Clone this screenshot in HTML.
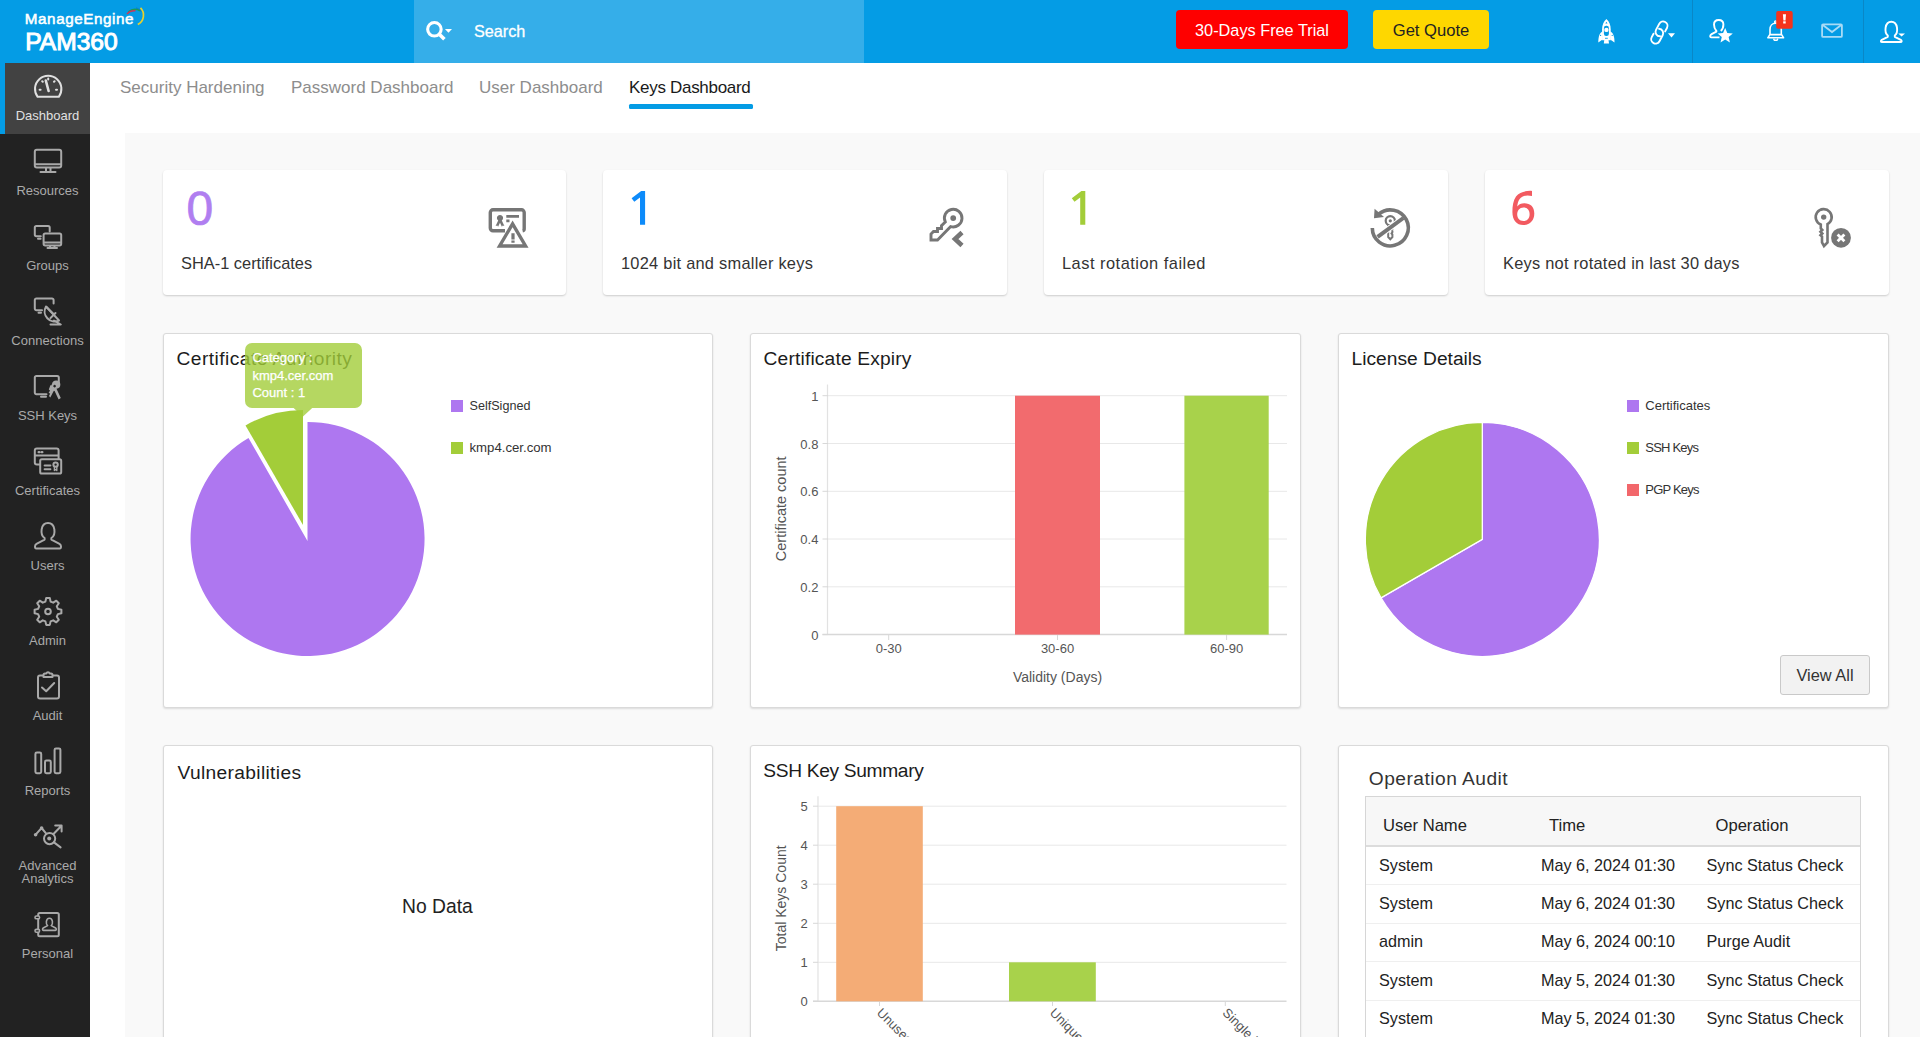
<!DOCTYPE html>
<html><head><meta charset="utf-8">
<style>
*{box-sizing:border-box;margin:0;padding:0}
html,body{width:1920px;height:1037px;overflow:hidden;background:#fff;font-family:"Liberation Sans",sans-serif;color:#333}
.a{position:absolute}
#hdr{left:0;top:0;width:1920px;height:63px;background:#049ce5}
#side{left:0;top:63px;width:90px;height:974px;background:#222}
.si{position:absolute;left:5px;width:85px;text-align:center;color:#aaa;font-size:13px;line-height:13px}
.si svg{position:absolute;left:31px}
#grey{left:125px;top:133px;width:1795px;height:904px;background:#f9f9f9}
.tab{position:absolute;top:78.8px;font-size:17px;line-height:17px;color:#8d8d8d;white-space:nowrap}
.card{position:absolute;top:170px;width:404px;height:125px;background:#fff;border-radius:4px;box-shadow:0 1px 2px rgba(0,0,0,.18)}
.card .num{position:absolute;left:23.5px;top:14.5px;font-size:48px;line-height:48px;-webkit-text-stroke:0.7px currentColor}
.card .lbl{position:absolute;left:18px;top:84.6px;font-size:16.4px;line-height:16px;color:#333;white-space:nowrap}
.card svg{position:absolute}
.pan{position:absolute;background:#fff;border:1px solid #dadada;box-shadow:0 1px 2px rgba(0,0,0,.12);border-radius:3px}
.ttl{position:absolute;font-size:19.2px;line-height:19px;color:#1c1c1c;white-space:nowrap}
.td{position:absolute;font-size:16.2px;line-height:16px;color:#222;white-space:nowrap}
.lg{position:absolute;font-size:13px;color:#333;white-space:nowrap}
.lg i{position:absolute;left:0;top:3px;width:11px;height:11px}
.lg span{position:absolute;left:18px;top:0}
</style></head><body>
<div id="hdr" class="a"></div>
<!-- header content -->
<div class="a" style="left:24.8px;top:11.2px;font-size:15.2px;line-height:15px;color:#fff;letter-spacing:0.6px;-webkit-text-stroke:0.55px #fff">ManageEngine</div>
<div class="a" style="left:25.2px;top:29.5px;font-size:24.6px;line-height:24px;color:#fff;-webkit-text-stroke:1px #fff">PAM360</div>
<svg class="a" style="left:120px;top:3px" width="30" height="26" viewBox="0 0 30 26">
<path d="M16 5 A10.5 10.5 0 0 1 21.5 8.5" stroke="#1670bd" stroke-width="1.4" fill="none" opacity="0.6"/>
<path d="M8.5 8.8 A10 10 0 0 1 20 7.8" stroke="#1d9a55" stroke-width="1.6" fill="none"/>
<path d="M7 11 A9 9 0 0 1 15.5 7.8" stroke="#c73a5c" stroke-width="1.5" fill="none"/>
<path d="M20.5 4.8 A10.5 10.5 0 0 1 17.8 21.5" stroke="#e9d12c" stroke-width="1.7" fill="none"/>
</svg>
<div class="a" style="left:414px;top:0;width:450px;height:63px;background:#35aee9"></div>
<svg class="a" style="left:424px;top:20px" width="32" height="24" viewBox="0 0 32 24">
<circle cx="10.4" cy="9.3" r="6.75" stroke="#fff" stroke-width="3.1" fill="none"/>
<path d="M14.6 13.5 L20.4 19.3" stroke="#fff" stroke-width="3.6"/>
<path d="M20.9 9.1 H28 L24.5 12.8 Z" fill="#fff"/>
</svg>
<div class="a" style="left:474px;top:23px;font-size:16.2px;line-height:16px;color:#fff;-webkit-text-stroke:0.3px #fff">Search</div>
<div class="a" style="left:1176px;top:10px;width:172px;height:39px;background:#fe0000;border-radius:4px;color:#fff;font-size:16.3px;line-height:41px;text-align:center">30-Days Free Trial</div>
<div class="a" style="left:1373px;top:10px;width:116px;height:39px;background:#fed700;border-radius:4px;color:#222;font-size:16.6px;line-height:41px;text-align:center">Get Quote</div>
<div class="a" style="left:1692px;top:0;width:1px;height:63px;background:#0a87c6"></div>
<div class="a" style="left:1863px;top:0;width:1px;height:63px;background:#0a87c6"></div>
<svg class="a" style="left:0;top:0" width="1920" height="63" viewBox="0 0 1920 63">
<g fill="none" stroke="#fff" stroke-width="1.6" stroke-linejoin="round">
 <!-- link -->
 <path d="M4.4 0.5 V-3.4 A4.4 4.4 0 0 0 -4.4 -3.4 V3.4 A4.4 4.4 0 0 0 2.2 7.2" transform="translate(1661.5 28.9) rotate(28)" stroke-width="1.9" stroke-linecap="round"/>
 <path d="M-1.8 -7.4 A4.4 4.4 0 0 1 4.4 -3.4 V3.4 A4.4 4.4 0 0 1 -4.4 3.4 V-0.5" transform="translate(1657.2 36.2) rotate(28)" stroke-width="1.9" stroke-linecap="round"/>
 <!-- user star -->
 <path d="M1720.8 31 C1722.6 29.4 1723.4 27.5 1723.4 24.6 C1723.4 21.6 1721.6 20 1718.7 20 C1715.8 20 1714 21.6 1714 24.6 C1714 27.6 1714.8 29.3 1716.4 31 V31.6 L1711.6 34.2 C1709.8 35.2 1709.8 37.4 1711.2 37.4 H1719.5" stroke-width="1.9"/>
 <!-- bell -->
 <path d="M1770 34.4 V29.5 C1770 26 1772.3 23.3 1775.6 23.3 C1778.9 23.3 1781.3 26 1781.3 29.5 V34.4"/>
 <path d="M1769.8 34.6 H1781.6 L1783.6 37.8 H1767.8 Z"/>
 <path d="M1773.6 38.6 L1774.3 40.2 H1777.1 L1777.8 38.6" stroke-width="1.4"/>
 <circle cx="1775.5" cy="21.9" r="1" stroke-width="1.2"/>
 <!-- user -->
 <path d="M1887.8 35.6 C1884.2 33 1884.4 21.8 1891.3 21.8 C1898.2 21.8 1898.4 33 1894.8 35.6 L1894.8 36.8 L1900.8 39.8 C1902.2 40.8 1901.9 42 1900.5 42 H1882.1 C1880.7 42 1880.4 40.8 1881.8 39.8 L1887.8 36.8 Z" stroke-width="1.9"/>
</g>
<path d="M1725.20 28.00 L1727.32 33.09 L1732.81 33.53 L1728.62 37.11 L1729.90 42.47 L1725.20 39.60 L1720.50 42.47 L1721.78 37.11 L1717.59 33.53 L1723.08 33.09 Z" fill="#fff"/>
<g fill="#fff">
 <path d="M1606.4 19 C1603.6 21.6 1602.1 25 1602.1 29.2 V40.3 H1610.7 V29.2 C1610.7 25 1609.2 21.6 1606.4 19 Z"/>
 <path d="M1602.6 31.2 C1599.8 32.8 1598.3 36 1598.3 42.6 L1602.6 39.6 Z"/>
 <path d="M1610.2 31.2 C1613 32.8 1614.5 36 1614.5 42.6 L1610.2 39.6 Z"/>
 <path d="M1604.3 40 H1608.5 L1609 43.6 H1603.8 Z"/>
</g>
<g fill="#049ce5">
 <rect x="1603.9" y="25.8" width="5" height="10.2" rx="2.2"/>
 <path d="M1606.4 21.7 L1607.5 23.5 H1605.3 Z"/>
 <rect x="1605" y="37.8" width="2.8" height="0.9"/>
 <circle cx="1600.6" cy="35.4" r="0.6"/>
 <circle cx="1612.2" cy="35.4" r="0.6"/>
</g>
<circle cx="1606.4" cy="29.9" r="2.2" fill="#fff"/>

<path d="M1668 33.3 H1675 L1671.5 37.6 Z" fill="#fff"/>
<path d="M1898.3 33.5 H1905 L1901.6 36.6 Z" fill="#fff"/>
<rect x="1822.1" y="24.3" width="19.8" height="12.6" rx="1" stroke="#a8dbf6" stroke-width="1.8" fill="none"/>
<path d="M1822.5 24.8 L1832 32 L1841.5 24.8" stroke="#a8dbf6" stroke-width="1.8" fill="none"/>
<rect x="1776.2" y="11.1" width="16.5" height="17.7" rx="1.8" fill="#f4331c"/>
<path d="M1782.9 14.3 H1786 L1785.5 20.6 H1783.4 Z" fill="#fff"/>
<rect x="1783.2" y="21.3" width="2.5" height="2.2" fill="#fff"/>
</svg>
<div id="side" class="a"></div>
<div class="a" style="left:0;top:63px;width:5px;height:71px;background:#049ce5"></div>
<div class="a" style="left:5px;top:63px;width:85px;height:71px;background:#424242"></div>
<svg class="a" style="left:0;top:0" width="90" height="1037" viewBox="0 0 90 1037">
<g fill="none" stroke="#a9a9a9" stroke-width="2" stroke-linejoin="round" stroke-linecap="round">
 <!-- dashboard -->
 <g stroke="#e0e0e0">
 <path d="M37.6 96.8 A13.2 13.2 0 1 1 58.8 96.8 Z"/>
 <path d="M48.6 91 L45.8 80.5" stroke-width="2.6"/>
 <path d="M48.2 78.6 V79.4 M42.2 81.2 L42.8 81.8 M54.6 81.2 L54 81.8 M39.6 89.8 H40.6 M56 89.8 H57"/>
 </g>
 <!-- resources -->
 <rect x="34.8" y="149.8" width="26.4" height="17.6" rx="2"/>
 <path d="M35 164.2 H61 M46 168 V171 M50.5 168 V171 M40.5 172 H55.5"/>
 <!-- groups -->
 <path d="M49.7 231.5 V227.5 a1.6 1.6 0 0 0 -1.6 -1.6 H36.4 a1.6 1.6 0 0 0 -1.6 1.6 V234.6 a1.6 1.6 0 0 0 1.6 1.6 H40.8 M38 238.8 H40.6"/>
 <rect x="43.6" y="233.4" width="17.6" height="12" rx="1.6"/>
 <path d="M44 242.6 H61 M50 246 V247.5 M54.5 246 V247.5 M47.5 248 H57"/>
 <!-- connections -->
 <path d="M53.6 303.5 V300 a1.6 1.6 0 0 0 -1.6 -1.6 H36.4 a1.6 1.6 0 0 0 -1.6 1.6 V308.6 a1.6 1.6 0 0 0 1.6 1.6 H42 M38.5 312.8 H41"/>
 <path d="M46 306.5 A10 10 0 0 0 59 320.5 Z"/>
 <path d="M46.5 307 L53.5 314 M55.5 313 L50.5 318"/>
 <path d="M54 320.5 L60.8 324.5 H50.5"/>
 <!-- ssh keys -->
 <path d="M58.8 385 V377.5 a1.6 1.6 0 0 0 -1.6 -1.6 H36.4 a1.6 1.6 0 0 0 -1.6 1.6 V392.6 a1.6 1.6 0 0 0 1.6 1.6 H46.5 M41 396.8 H46"/>
 <!-- certificates -->
 <rect x="34.8" y="448.4" width="23.8" height="16.2" rx="2"/>
 <path d="M38.6 452.2 H39.4 M41.6 452.2 H42.4" stroke-width="2.2"/>
 <path d="M35 455.6 H58"/>
 <rect x="40.2" y="459.2" width="21" height="14.4" rx="1.6" fill="#222"/>
 <path d="M44.6 465.6 H50.4 M44.6 469.2 H50.4"/>
 <circle cx="55.6" cy="464.6" r="2.2"/>
 <path d="M54.4 467 V470.5 L55.6 469.5 L56.8 470.5 V467" stroke-width="1.4"/>
 <!-- users -->
 <path d="M44.6 538 C39.8 535 40.4 523 48 523 C55.6 523 56.2 535 51.4 538 V539.6 L59.5 543.8 C61.6 545 61.3 548.5 59.8 548.5 H36.2 C34.7 548.5 34.4 545 36.5 543.8 L44.6 539.6 Z"/>
 <!-- admin gear -->
 <path d="M46.2 598 H49.8 L50.6 601.6 L53.2 602.7 L56.3 600.7 L58.8 603.2 L56.8 606.3 L57.9 608.9 L61.4 609.7 V613.3 L57.9 614.1 L56.8 616.7 L58.8 619.8 L56.3 622.3 L53.2 620.3 L50.6 621.4 L49.8 624.9 H46.2 L45.4 621.4 L42.8 620.3 L39.7 622.3 L37.2 619.8 L39.2 616.7 L38.1 614.1 L34.6 613.3 V609.7 L38.1 608.9 L39.2 606.3 L37.2 603.2 L39.7 600.7 L42.8 602.7 L45.4 601.6 Z"/>
 <circle cx="48" cy="611.5" r="2.8"/>
 <!-- audit -->
 <rect x="38" y="675.5" width="21" height="23" rx="2"/>
 <path d="M43.5 677 V675 a1.5 1.5 0 0 1 1.5 -1.5 H46.3 a1.8 1.8 0 0 1 3.4 0 H51 a1.5 1.5 0 0 1 1.5 1.5 V677 Z" fill="#222"/>
 <path d="M42 687.5 L46.2 691.3 L54.2 683"/>
 <!-- reports -->
 <rect x="35.4" y="752.6" width="5.8" height="20.6" rx="1.4"/>
 <rect x="45" y="760.6" width="5.8" height="12.6" rx="1.4"/>
 <rect x="54.6" y="748.4" width="5.8" height="24.8" rx="1.4"/>
 <!-- adv analytics -->
 <path d="M35.6 834.6 L41.6 828 L46.4 833.8"/>
 <circle cx="49.6" cy="838.6" r="5.6"/>
 <path d="M54 842.4 L60.6 847.4 M53.5 834 L61 826.2 M55.2 825.4 H61.6 V831.6"/>
 <!-- personal -->
 <rect x="38.2" y="913" width="20.6" height="23.2" rx="1.5"/>
 <rect x="35" y="916" width="4.6" height="2.8" rx="1.4" fill="#222" stroke-width="1.6"/>
 <rect x="35" y="929.4" width="4.6" height="2.8" rx="1.4" fill="#222" stroke-width="1.6"/>
 <path d="M47.6 925.6 C45.6 924 45.8 918.2 49.4 918.2 C53 918.2 53.2 924 51.2 925.6 L55.6 928 C56.6 928.6 56.4 930.4 55.4 930.4 H43.4 C42.4 930.4 42.2 928.6 43.2 928 Z" stroke-width="1.6"/>
</g>
<g fill="#a9a9a9">
 <circle cx="49.2" cy="838.6" r="2"/>
 <circle cx="35.6" cy="834.8" r="1.8"/>
 <circle cx="41.6" cy="828" r="1.8"/>
 <!-- ssh keys shapes -->
 <path d="M52 384 a4.2 4.2 0 1 1 4.5 4.8 L60.8 398 L58.6 399.4 L54.6 391 A4.2 4.2 0 0 1 52 384 Z M54.6 384.8 a1.3 1.3 0 1 0 0.01 0 Z"/>
 <path d="M50.5 385 L55 388.5 L50.3 397.5 L49 396 L50.2 393.5 L48.6 393 L50 390.5 L48.8 389.4 Z"/>
</g>
</svg>
<div class="si" style="top:109px;color:#e0e0e0">Dashboard</div>
<div class="si" style="top:184px">Resources</div>
<div class="si" style="top:259px">Groups</div>
<div class="si" style="top:334px">Connections</div>
<div class="si" style="top:409px">SSH Keys</div>
<div class="si" style="top:484px">Certificates</div>
<div class="si" style="top:559px">Users</div>
<div class="si" style="top:634px">Admin</div>
<div class="si" style="top:709px">Audit</div>
<div class="si" style="top:784px">Reports</div>
<div class="si" style="top:859px">Advanced<br>Analytics</div>
<div class="si" style="top:947px">Personal</div>
<div id="grey" class="a"></div>

<!-- tabs -->
<div class="tab" style="left:120px">Security Hardening</div>
<div class="tab" style="left:291px">Password Dashboard</div>
<div class="tab" style="left:479px">User Dashboard</div>
<div class="tab" style="left:629px;color:#1a1a1a;letter-spacing:-0.3px">Keys Dashboard</div>
<div class="a" style="left:628.5px;top:104px;width:124px;height:5px;background:#049ce5;border-radius:1.5px"></div>

<!-- KPI cards -->
<div class="card" style="left:163px;width:403px"><div class="num" style="color:#b07ef0">0</div><div class="lbl">SHA-1 certificates</div></div>
<div class="card" style="left:603px"><div class="lbl" style="letter-spacing:0.25px">1024 bit and smaller keys</div></div>
<div class="card" style="left:1044px"><div class="lbl" style="letter-spacing:0.5px">Last rotation failed</div></div>
<div class="card" style="left:1485px"><div class="lbl" style="letter-spacing:0.25px">Keys not rotated in last 30 days</div></div>

<svg class="a" style="left:0;top:0" width="1600" height="240" viewBox="0 0 1600 240">
<path d="M640 191.1 H645.1 V224.7 H640 V197.6 L634.3 201.8 L631.6 198.3 L641.2 191.1 Z" fill="#0d8bfa"/>
<path d="M1080.2 191.1 H1085.3 V224.7 H1080.2 V197.6 L1074.5 201.8 L1071.8 198.3 L1081.4 191.1 Z" fill="#a3cd39"/>
<path fill-rule="evenodd" fill="#f25a60" d="M1532 190.9 C1526 190.6 1519.5 191.6 1516 196.6 C1513.2 200.6 1512.4 206 1512.4 212 C1512.4 220 1516.5 225.1 1523.3 225.1 C1530 225.1 1534.3 220.5 1534.3 213.6 C1534.3 206.8 1530.3 203.3 1524.3 203.3 C1521 203.3 1518.8 204.5 1517.6 206.3 L1517.3 206.3 C1517.8 199.8 1520.8 195.4 1527.6 195.4 C1529.2 195.4 1530.8 195.6 1532 195.9 Z M1523.4 207.6 C1527.3 207.6 1529.6 210.2 1529.6 214.3 C1529.6 218.6 1527.3 221.1 1523.4 221.1 C1519.6 221.1 1517.2 218.2 1517.2 214.6 C1517.2 210.6 1519.6 207.6 1523.4 207.6 Z"/>
</svg>
<!-- KPI icons -->
<svg class="a" style="left:0;top:0" width="1920" height="300" viewBox="0 0 1920 300">
<g fill="none" stroke="#767676">
 <!-- cert warning -->
 <path d="M505 230.8 H493 a2.7 2.7 0 0 1 -2.7 -2.7 V212.5 a2.7 2.7 0 0 1 2.7 -2.7 H521.5 a2.7 2.7 0 0 1 2.7 2.7 V228.8 a2 2 0 0 1 -1.6 2" stroke-width="3.4"/>
 <path d="M506.3 216.4 H519 M506.3 220.9 H509.5" stroke-width="2.6"/>
 <path d="M512.6 223.8 L499.6 246 H525.6 Z" stroke-width="3.4" stroke-linejoin="miter"/>
 <path d="M513 233.2 V239.4 M513 240.6 V242.7" stroke-width="3.2"/>
 <!-- key 1024 -->
 <path d="M950.7 226.54 L937.5 240 H931 V234 L933.5 231.5 H937.5 V228.5 H941.5 V225.6 L945.29 221.96 A8.8 8.8 0 1 1 950.7 226.54 Z" stroke-width="2.9" stroke-linejoin="miter"/>
 <path d="M962 232.5 L955 239 L962 245.5" stroke-width="4.6" stroke-linejoin="miter"/>
 <!-- rotation failed -->
 <path d="M1372.3 228 A18 18 0 1 0 1378.6 214.2" stroke-width="3.6"/>
 <circle cx="1390.3" cy="220.8" r="4.6" stroke-width="2.2"/>
 <path d="M1388.2 225 V237 L1390.3 239.2 L1392.4 237 V234.5 L1391.5 233.5 L1392.4 232.2 V231 L1391.5 230 L1392.4 229 V225" stroke-width="2"/>
 <path d="M1382.5 233.3 L1398.5 221.6" stroke="#fff" stroke-width="6"/>
 <path d="M1377.6 236.8 L1403.4 218" stroke-width="4"/>
 <!-- keys not rotated -->
 <path d="M1820.8 224.56 V228.5 L1822.3 230 L1820.5 231.8 L1822.3 233.5 L1820.5 235.3 L1822 236.6 V242.4 L1824 246 L1827.5 242.4 V224.14 A8 8 0 1 0 1820.8 224.56 Z" stroke-width="2.6"/>
</g>
<g fill="#767676">
 <path d="M1374.6 208.7 L1374 218.3 L1384 217 Z"/>
 <circle cx="1390.3" cy="220.8" r="1.6"/>
 <circle cx="953.2" cy="218.1" r="2.9"/>
 <path d="M498.2 220.5 a3.1 3.1 0 1 1 3.6 0 L504.4 226 L502.7 225.5 L501.9 226.8 L500 222.8 L498.1 226.8 L497.3 225.5 L495.6 226 Z"/>
 <circle cx="1823.7" cy="217.1" r="2.7"/>
 <circle cx="1841" cy="237.8" r="9.9"/>
</g>
<path d="M1837.6 234.4 L1844.4 241.2 M1844.4 234.4 L1837.6 241.2" stroke="#fff" stroke-width="2.8"/>
</svg>
<!-- panels row 1 -->
<div class="pan" style="left:163px;top:333px;width:550px;height:375px"></div>
<div class="pan" style="left:750px;top:333px;width:551px;height:375px"></div>
<div class="pan" style="left:1338px;top:333px;width:551px;height:375px"></div>
<!-- panels row 2 -->
<div class="pan" style="left:163px;top:745px;width:550px;height:400px"></div>
<div class="pan" style="left:750px;top:745px;width:551px;height:400px"></div>
<div class="pan" style="left:1338px;top:745px;width:551px;height:400px"></div>

<svg class="a" style="left:0;top:0" width="1920" height="1037" viewBox="0 0 1920 1037" font-family="Liberation Sans, sans-serif">
<path d="M307.5 541 V422 A117 117 0 1 1 248.5 438 Z" fill="#ae77f0"/>
<path d="M303 525 V410 A115 115 0 0 0 245.5 425.4 Z" fill="#a3cd39"/>
<rect x="451" y="400" width="12" height="12" fill="#ae77f0"/>
<rect x="451" y="442" width="12" height="12" fill="#a3cd39"/>
<text x="469.5" y="410" font-size="12.6" fill="#333">SelfSigned</text>
<text x="469.5" y="452" font-size="13.2" fill="#333">kmp4.cer.com</text>
<path d="M828 586.8 H1287" stroke="#e8e8e8" stroke-width="1"/>
<path d="M828 539.0 H1287" stroke="#e8e8e8" stroke-width="1"/>
<path d="M828 491.3 H1287" stroke="#e8e8e8" stroke-width="1"/>
<path d="M828 443.5 H1287" stroke="#e8e8e8" stroke-width="1"/>
<path d="M828 395.7 H1287" stroke="#e8e8e8" stroke-width="1"/>
<path d="M827.5 384.5 V635" stroke="#e2e2e2" stroke-width="1.2"/>
<path d="M822.5 634.6 H828" stroke="#d8d8d8" stroke-width="1"/>
<path d="M822.5 586.8 H828" stroke="#d8d8d8" stroke-width="1"/>
<path d="M822.5 539.0 H828" stroke="#d8d8d8" stroke-width="1"/>
<path d="M822.5 491.3 H828" stroke="#d8d8d8" stroke-width="1"/>
<path d="M822.5 443.5 H828" stroke="#d8d8d8" stroke-width="1"/>
<path d="M822.5 395.7 H828" stroke="#d8d8d8" stroke-width="1"/>
<path d="M822.5 634.6 H1287" stroke="#d8d8d8" stroke-width="1.5"/>
<path d="M888.7 635 V640" stroke="#d8d8d8" stroke-width="1"/>
<path d="M1057.5 635 V640" stroke="#d8d8d8" stroke-width="1"/>
<path d="M1226.6 635 V640" stroke="#d8d8d8" stroke-width="1"/>
<rect x="1015" y="395.7" width="85" height="238.9" fill="#f26b6e"/>
<rect x="1184.4" y="395.7" width="84.3" height="238.9" fill="#a8d24b"/>
<text x="818.4" y="639.6" font-size="13" fill="#555" text-anchor="end">0</text>
<text x="818.4" y="591.8" font-size="13" fill="#555" text-anchor="end">0.2</text>
<text x="818.4" y="544.0" font-size="13" fill="#555" text-anchor="end">0.4</text>
<text x="818.4" y="496.3" font-size="13" fill="#555" text-anchor="end">0.6</text>
<text x="818.4" y="448.5" font-size="13" fill="#555" text-anchor="end">0.8</text>
<text x="818.4" y="400.7" font-size="13" fill="#555" text-anchor="end">1</text>
<text x="888.7" y="652.8" font-size="13" fill="#555" text-anchor="middle">0-30</text>
<text x="1057.5" y="652.8" font-size="13" fill="#555" text-anchor="middle">30-60</text>
<text x="1226.6" y="652.8" font-size="13" fill="#555" text-anchor="middle">60-90</text>
<text x="1057.5" y="681.5" font-size="14" fill="#555" text-anchor="middle">Validity (Days)</text>
<text transform="translate(785.5 508.8) rotate(-90)" font-size="14.5" fill="#555" text-anchor="middle">Certificate count</text>
<path d="M1482.3 539.4 L1482.3 422.4 A117 117 0 1 1 1381 597.9 Z" fill="#ae77f0" stroke="#fff" stroke-width="1.3"/>
<path d="M1482.3 539.4 L1482.3 422.4 A117 117 0 0 0 1381 597.9 Z" fill="#a3cd39" stroke="#fff" stroke-width="1.3"/>
<rect x="1627" y="400" width="12" height="12" fill="#ae77f0"/>
<text x="1645.3" y="410.0" font-size="13" fill="#333">Certificates</text>
<rect x="1627" y="442" width="12" height="12" fill="#a3cd39"/>
<text x="1645.3" y="452.0" font-size="13" fill="#333" letter-spacing="-0.8">SSH Keys</text>
<rect x="1627" y="484" width="12" height="12" fill="#f2676b"/>
<text x="1645.3" y="494.0" font-size="13" fill="#333" letter-spacing="-0.8">PGP Keys</text>
<path d="M818 962.3 H1286.5" stroke="#e8e8e8" stroke-width="1"/>
<path d="M818 923.3 H1286.5" stroke="#e8e8e8" stroke-width="1"/>
<path d="M818 884.2 H1286.5" stroke="#e8e8e8" stroke-width="1"/>
<path d="M818 845.2 H1286.5" stroke="#e8e8e8" stroke-width="1"/>
<path d="M818 806.2 H1286.5" stroke="#e8e8e8" stroke-width="1"/>
<path d="M818 796.2 V1001.5" stroke="#e2e2e2" stroke-width="1.2"/>
<path d="M813 1001.3 H818" stroke="#d8d8d8" stroke-width="1"/>
<path d="M813 962.3 H818" stroke="#d8d8d8" stroke-width="1"/>
<path d="M813 923.3 H818" stroke="#d8d8d8" stroke-width="1"/>
<path d="M813 884.2 H818" stroke="#d8d8d8" stroke-width="1"/>
<path d="M813 845.2 H818" stroke="#d8d8d8" stroke-width="1"/>
<path d="M813 806.2 H818" stroke="#d8d8d8" stroke-width="1"/>
<path d="M813 1001.3 H1286.5" stroke="#d8d8d8" stroke-width="1.5"/>
<path d="M879.5 1002 V1006" stroke="#d8d8d8" stroke-width="1"/>
<path d="M1052.5 1002 V1006" stroke="#d8d8d8" stroke-width="1"/>
<path d="M1225.3 1002 V1006" stroke="#d8d8d8" stroke-width="1"/>
<rect x="836.2" y="806.2" width="86.6" height="195.1" fill="#f4ac76"/>
<rect x="1009" y="962.3" width="86.8" height="39.0" fill="#a8d24b"/>
<text x="807.7" y="1006.3" font-size="13" fill="#555" text-anchor="end">0</text>
<text x="807.7" y="967.3" font-size="13" fill="#555" text-anchor="end">1</text>
<text x="807.7" y="928.3" font-size="13" fill="#555" text-anchor="end">2</text>
<text x="807.7" y="889.2" font-size="13" fill="#555" text-anchor="end">3</text>
<text x="807.7" y="850.2" font-size="13" fill="#555" text-anchor="end">4</text>
<text x="807.7" y="811.2" font-size="13" fill="#555" text-anchor="end">5</text>
<text transform="translate(876.0 1013.5) rotate(45)" font-size="13" fill="#555">Unused Keys</text>
<text transform="translate(1049.0 1013.5) rotate(45)" font-size="13" fill="#555">Unique Keys</text>
<text transform="translate(1221.8 1013.5) rotate(45)" font-size="13" fill="#555">Single Key Used</text>
<text transform="translate(785.5 898.3) rotate(-90)" font-size="14" fill="#555" text-anchor="middle">Total Keys Count</text>
</svg>
<div class="ttl" style="left:176.5px;top:348.6px;letter-spacing:0.45px">Certificate Authority</div>
<div class="ttl" style="left:763.6px;top:348.6px;letter-spacing:0.16px">Certificate Expiry</div>
<div class="ttl" style="left:1351.6px;top:348.6px">License Details</div>
<div class="ttl" style="left:177.5px;top:763.4px;letter-spacing:0.34px">Vulnerabilities</div>
<div class="ttl" style="left:763.3px;top:761.3px;letter-spacing:-0.34px">SSH Key Summary</div>
<div class="ttl" style="left:1368.8px;top:769.2px;color:#333;letter-spacing:0.47px">Operation Audit</div>
<div class="a" style="left:402px;top:897px;font-size:19.3px;line-height:19px;color:#222">No Data</div>
<div class="a" style="left:1780px;top:655px;width:90px;height:39.5px;background:#f2f2f2;border:1px solid #c9c9c9;border-radius:3px;font-size:16.4px;line-height:39.5px;text-align:center;color:#333">View All</div>
<!-- tooltip -->
<svg class="a" style="left:0;top:0" width="400" height="430" viewBox="0 0 400 430">
<path d="M252 343 H355 a7 7 0 0 1 7 7 V401 a7 7 0 0 1 -7 7 H312.2 L303 416.5 L293.6 408 H252 a7 7 0 0 1 -7 -7 V350 a7 7 0 0 1 7 -7 Z" fill="#a3cd39" fill-opacity="0.8"/>
</svg>
<div class="a" style="left:252.4px;top:349.3px;font-size:13px;line-height:17.4px;color:#fff;white-space:nowrap;-webkit-text-stroke:0.25px #fff">Category :<br>kmp4.cer.com<br>Count : 1</div>

<div class="a" style="left:1364.5px;top:796px;width:496px;height:260px;border:1px solid #d6d6d6;border-bottom:none"></div>
<div class="a" style="left:1365.5px;top:797px;width:494px;height:49.5px;background:#f7f7f7;border-bottom:2px solid #dcdcdc"></div>
<div class="a" style="left:1365.5px;top:884.2px;width:494px;height:1px;background:#efefef"></div>
<div class="a" style="left:1365.5px;top:922.9px;width:494px;height:1px;background:#efefef"></div>
<div class="a" style="left:1365.5px;top:961.3px;width:494px;height:1px;background:#efefef"></div>
<div class="a" style="left:1365.5px;top:999.7px;width:494px;height:1px;background:#efefef"></div>
<div class="td" style="left:1383px;top:818.0px;font-size:16.6px">User Name</div>
<div class="td" style="left:1549px;top:818.0px;font-size:16.6px">Time</div>
<div class="td" style="left:1715.5px;top:818.0px;font-size:16.6px">Operation</div>
<div class="td" style="left:1379px;top:856.7px">System</div>
<div class="td" style="left:1541px;top:856.7px">May 6, 2024 01:30</div>
<div class="td" style="left:1706.5px;top:856.7px">Sync Status Check</div>
<div class="td" style="left:1379px;top:895.0px">System</div>
<div class="td" style="left:1541px;top:895.0px">May 6, 2024 01:30</div>
<div class="td" style="left:1706.5px;top:895.0px">Sync Status Check</div>
<div class="td" style="left:1379px;top:933.4px">admin</div>
<div class="td" style="left:1541px;top:933.4px">May 6, 2024 00:10</div>
<div class="td" style="left:1706.5px;top:933.4px">Purge Audit</div>
<div class="td" style="left:1379px;top:971.7px">System</div>
<div class="td" style="left:1541px;top:971.7px">May 5, 2024 01:30</div>
<div class="td" style="left:1706.5px;top:971.7px">Sync Status Check</div>
<div class="td" style="left:1379px;top:1010.1px">System</div>
<div class="td" style="left:1541px;top:1010.1px">May 5, 2024 01:30</div>
<div class="td" style="left:1706.5px;top:1010.1px">Sync Status Check</div>
</body></html>
